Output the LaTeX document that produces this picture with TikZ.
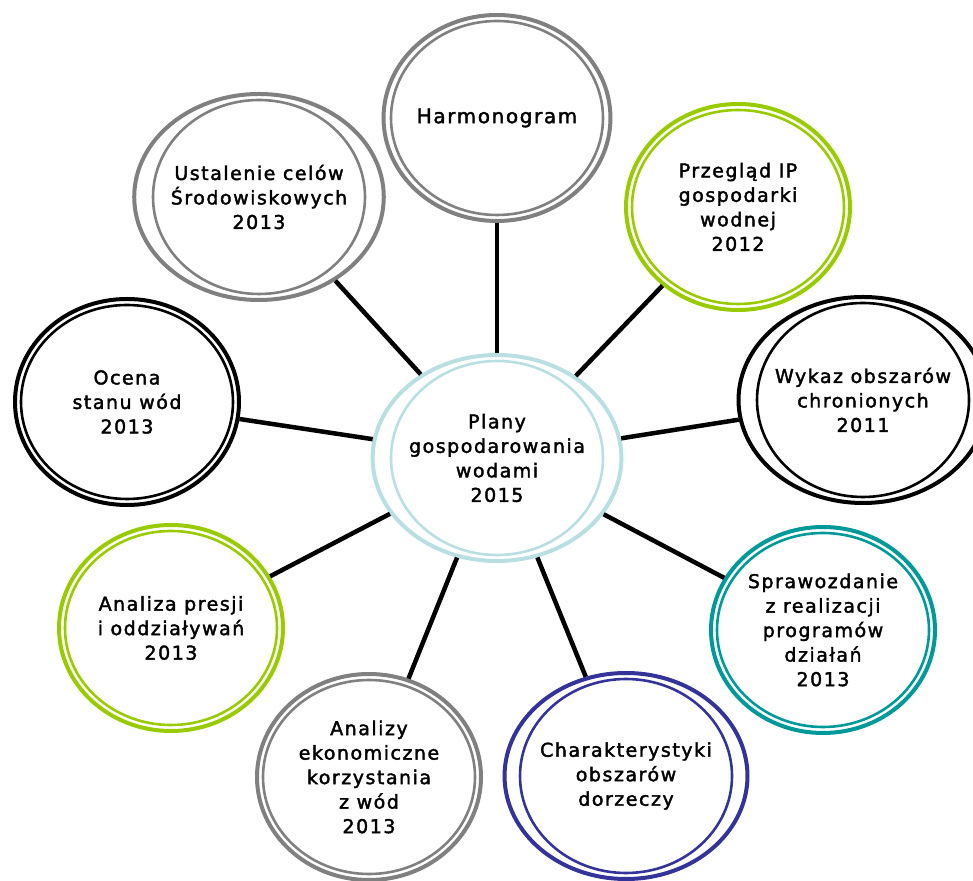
\documentclass[tikz,border=0pt]{standalone}
\usepackage{fontspec}
\usetikzlibrary{shapes.geometric}
\newfontfamily\ringfont{DejaVu Sans}[LetterSpace=8,FakeBold=2]
\definecolor{ringgray}{HTML}{808080}
\definecolor{ringgreen}{HTML}{99CC00}
\definecolor{ringteal}{HTML}{009999}
\definecolor{ringnavy}{HTML}{333399}
\definecolor{ringblue}{HTML}{B9DFE3}
\tikzset{
  ring/.style={ellipse, draw=#1, line width=4pt, minimum width=224pt, minimum height=206pt,
    inner sep=0pt, align=center, text=black,
    font=\ringfont\fontsize{19}{24.5}\selectfont},
  innerring/.style={draw=#1, line width=2.6pt},
  conn/.style={draw=black, line width=4.5pt}
}
\newcommand\ringnode[5]{%
  \node[ring=#4] (#1) at (#2,#3) {#5};
  \draw[innerring=#4] (#1.center) ellipse [x radius=106pt, y radius=97pt];
}
\begin{document}
\begin{tikzpicture}[x=1pt,y=1pt]
\useasboundingbox (0,0) rectangle (973,880);
\ringnode{C}{497}{422}{ringblue}{Plany\\gospodarowania\\wodami\\2015}
\ringnode{H}{497}{762}{ringgray}{\fontsize{20}{24}\selectfont Harmonogram}
\ringnode{U}{259}{683}{ringgray}{Ustalenie celów\\Środowiskowych\\2013}
\ringnode{P}{738}{673}{ringgreen}{Przegląd IP\\gospodarki\\wodnej\\2012}
\ringnode{O}{127}{478}{black}{Ocena\\stanu wód\\2013}
\ringnode{W}{863}{480}{black}{Wykaz obszarów\\chronionych\\2011}
\ringnode{S}{823}{250}{ringteal}{Sprawozdanie\\z realizacji\\programów\\działań\\2013}
\ringnode{K}{626}{104}{ringnavy}{Charakterystyki\\obszarów\\dorzeczy}
\ringnode{E}{369}{103}{ringgray}{Analizy\\ekonomiczne\\korzystania\\z wód\\2013}
\ringnode{A}{171}{252}{ringgreen}{Analiza presji\\i oddziaływań\\2013}
\foreach \t in {H,U,P,O,W,S,K,E,A}{
  \draw[conn] (C) -- (\t);
}
\end{tikzpicture}
\end{document}
